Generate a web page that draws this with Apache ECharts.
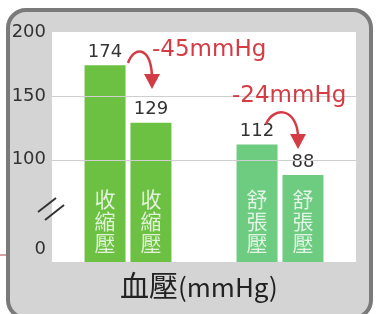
<!DOCTYPE html>
<html>
<head>
<meta charset="utf-8">
<script src="https://cdn.jsdelivr.net/npm/echarts@6/dist/echarts.min.js"></script>
<style>
  html, body { margin: 0; padding: 0; background: #fff; }
  #chart { width: 376px; height: 314px; }
</style>
</head>
<body>
<div id="chart"></div>
<script>
// 資料
const categories = ['收縮壓', '舒張壓']
const beforeValues = [174, 112]
const afterValues = [129, 88]
const barColors = ['#6cc142', '#6dcc80']
// 斷軸: 最下方 "0" 放在 30 的位置
const yTickValues = [30, 100, 150, 200]
const yTickLabels = ['0', '100', '150', '200']
const gridValues = [100, 150]

const red = '#d43c45'
const chart = echarts.init(document.getElementById('chart'))

function vertical(s) {
  return s.split('').join('\n')
}

const diffs = beforeValues.map((v, i) => '-' + (v - afterValues[i]) + 'mmHg')

const valueLabel = {
  show: true,
  position: 'top',
  distance: 4,
  color: '#333',
  fontSize: 18,
  fontFamily: 'DejaVu Sans'
}

const nameLabel = {
  show: true,
  position: 'insideBottom',
  distance: 8,
  color: 'rgba(255,255,255,0.8)',
  fontSize: 21,
  lineHeight: 22,
  fontFamily: 'Noto Sans CJK TC',
  formatter: p => vertical(categories[p.dataIndex])
}

const option = {
  backgroundColor: '#fff',
  animation: false,
  title: {
    text: '{a|血壓}{b|(mmHg)}',
    left: 115,
    top: 266,
    textStyle: {
      rich: {
        a: { fontSize: 29, color: '#222', fontWeight: 'normal', fontFamily: 'Noto Sans CJK TC' },
        b: { fontSize: 26, color: '#222', fontWeight: 'normal', fontFamily: 'Noto Sans CJK TC', padding: [3, 0, 0, 0] }
      }
    }
  },
  grid: {
    left: 52,
    top: 32,
    width: 304,
    height: 230,
    show: true,
    backgroundColor: '#fff',
    borderWidth: 0
  },
  xAxis: [{
    type: 'category',
    data: categories,
    axisLine: { show: false },
    axisTick: { show: false },
    axisLabel: { show: false }
  }, {
    type: 'category',
    data: categories,
    show: false
  }],
  yAxis: {
    type: 'value',
    min: 20,
    max: 200,
    interval: 10,
    axisLine: { show: false },
    axisTick: { show: false },
    splitLine: { show: false },
    axisLabel: {
      color: '#333',
      fontSize: 18,
      fontFamily: 'DejaVu Sans',
      margin: 6,
      formatter: v => {
        const i = yTickValues.indexOf(v)
        return i >= 0 ? yTickLabels[i] : ''
      }
    }
  },
  series: [{
    type: 'bar',
    xAxisIndex: 0,
    data: beforeValues,
    barWidth: 41,
    barGap: '12%',
    itemStyle: { color: p => barColors[p.dataIndex] },
    label: valueLabel,
    markLine: {
      silent: true,
      symbol: 'none',
      label: { show: false },
      lineStyle: { color: '#cfcfcf', width: 1, type: 'solid' },
      data: gridValues.map(v => ({ yAxis: v }))
    },
    z: 3
  }, {
    type: 'bar',
    xAxisIndex: 0,
    data: afterValues,
    barWidth: 41,
    barGap: '12%',
    itemStyle: { color: p => barColors[p.dataIndex] },
    label: valueLabel,
    z: 3
  }, {
    type: 'bar',
    xAxisIndex: 1,
    data: beforeValues,
    barWidth: 41,
    barGap: '12%',
    itemStyle: { color: 'rgba(0,0,0,0)' },
    label: nameLabel,
    z: 4
  }, {
    type: 'bar',
    xAxisIndex: 1,
    data: afterValues,
    barWidth: 41,
    barGap: '12%',
    itemStyle: { color: 'rgba(0,0,0,0)' },
    label: nameLabel,
    z: 4
  }],
  graphic: [
    // 外框
    {
      type: 'rect',
      z: -5,
      silent: true,
      shape: { x: 8, y: 10, width: 363, height: 308, r: 18 },
      style: { fill: '#d4d4d4', stroke: '#7a7a7a', lineWidth: 4 }
    },
    {
      type: 'line',
      z: -6,
      shape: { x1: 0, y1: 255, x2: 6, y2: 255 },
      style: { stroke: '#b04040', lineWidth: 1 }
    },
    // 斷軸記號
    {
      type: 'line',
      z: 10,
      shape: { x1: 38, y1: 212, x2: 56, y2: 198 },
      style: { stroke: '#333', lineWidth: 2 }
    },
    {
      type: 'line',
      z: 10,
      shape: { x1: 45, y1: 220, x2: 64, y2: 205 },
      style: { stroke: '#333', lineWidth: 2 }
    },
    // 差值文字
    {
      type: 'text',
      z: 10,
      style: { text: diffs[0], x: 152, y: 39, fill: red, fontSize: 23, fontWeight: 500, fontFamily: 'DejaVu Sans' }
    },
    {
      type: 'text',
      z: 10,
      style: { text: diffs[1], x: 232, y: 85, fill: red, fontSize: 23, fontWeight: 500, fontFamily: 'DejaVu Sans' }
    },
    // 箭頭
    {
      type: 'bezierCurve',
      z: 10,
      shape: { x1: 128, y1: 63, cpx1: 134, cpy1: 46, cpx2: 150, cpy2: 46, x2: 152, y2: 75 },
      style: { stroke: red, lineWidth: 2.5, fill: 'none' }
    },
    {
      type: 'polygon',
      z: 10,
      shape: { points: [[144, 74], [160, 74], [152, 89]] },
      style: { fill: red }
    },
    {
      type: 'bezierCurve',
      z: 10,
      shape: { x1: 266, y1: 124, cpx1: 274, cpy1: 106, cpx2: 296, cpy2: 108, x2: 298, y2: 135 },
      style: { stroke: red, lineWidth: 2.5, fill: 'none' }
    },
    {
      type: 'polygon',
      z: 10,
      shape: { points: [[290, 134], [306, 134], [298, 149]] },
      style: { fill: red }
    }
  ]
}

chart.setOption(option)
</script>
</body>
</html>
